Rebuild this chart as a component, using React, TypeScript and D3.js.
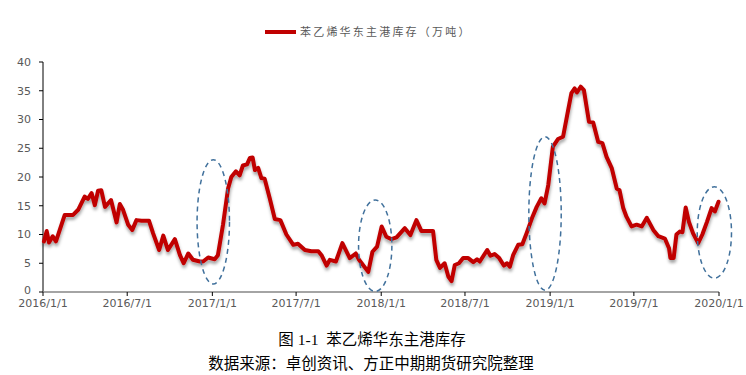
import React from "react";
import * as d3 from "d3";

const dates: string[] = [
  "2016-01-03","2016-01-09","2016-01-14","2016-01-22","2016-01-29","2016-02-17","2016-03-06","2016-03-17","2016-03-31","2016-04-07",
  "2016-04-15","2016-04-22","2016-04-29","2016-05-06","2016-05-14","2016-05-27","2016-06-08","2016-06-15","2016-06-22","2016-07-03",
  "2016-07-12","2016-07-21","2016-08-01","2016-08-17","2016-08-26","2016-09-08","2016-09-17","2016-09-27","2016-10-12","2016-10-23",
  "2016-10-31","2016-11-10","2016-11-20","2016-12-05","2016-12-12","2016-12-23","2017-01-06","2017-01-13","2017-01-24","2017-02-04",
  "2017-02-11","2017-02-21","2017-03-01","2017-03-08","2017-03-17","2017-03-23","2017-03-29","2017-04-03","2017-04-10","2017-04-17",
  "2017-04-24","2017-05-05","2017-05-16","2017-05-28","2017-06-10","2017-06-25","2017-07-05","2017-07-20","2017-08-03","2017-08-18",
  "2017-08-25","2017-09-05","2017-09-12","2017-09-25","2017-10-09","2017-10-25","2017-11-07","2017-11-14","2017-12-04","2017-12-13",
  "2017-12-23","2018-01-02","2018-01-12","2018-01-23","2018-02-03","2018-02-21","2018-03-05","2018-03-18","2018-03-29","2018-04-23",
  "2018-04-30","2018-05-08","2018-05-18","2018-05-26","2018-06-02","2018-06-09","2018-06-18","2018-06-27","2018-07-08","2018-07-19",
  "2018-07-27","2018-08-02","2018-08-18","2018-08-25","2018-09-03","2018-09-13","2018-09-23","2018-09-30","2018-10-06","2018-10-13",
  "2018-10-24","2018-11-02","2018-11-11","2018-11-24","2018-12-03","2018-12-13","2018-12-20","2018-12-28","2019-01-07","2019-01-18",
  "2019-01-29","2019-02-07","2019-02-16","2019-02-23","2019-02-28","2019-03-08","2019-03-15","2019-03-26","2019-04-04","2019-04-15",
  "2019-04-24","2019-05-03","2019-05-14","2019-05-25","2019-05-31","2019-06-08","2019-06-15","2019-06-26","2019-07-07","2019-07-18",
  "2019-07-29","2019-08-12","2019-08-23","2019-09-06","2019-09-15","2019-09-18","2019-09-25","2019-10-01","2019-10-08","2019-10-14",
  "2019-10-21","2019-10-28","2019-11-06","2019-11-17","2019-11-26","2019-12-06","2019-12-16","2019-12-23","2019-12-31",
];

const inventory: number[] = [
  8.8,10.6,8.6,9.7,8.8,13.4,13.4,14.3,16.6,16.2,
  17.2,15.1,17.6,17.7,14.8,16.0,12.1,15.3,14.3,11.7,
  10.8,12.5,12.4,12.4,10.2,7.3,9.8,7.3,9.2,6.4,
  5.0,6.7,5.6,5.3,5.3,6.0,5.7,6.4,11.7,18.0,
  20.0,21.0,20.3,22.0,22.2,23.3,23.4,21.2,21.6,19.8,
  19.7,16.3,12.7,12.5,10.0,8.2,8.4,7.3,7.1,7.1,
  6.4,4.6,5.6,5.3,8.5,5.9,6.7,5.6,3.5,7.0,
  7.9,11.4,9.6,9.2,9.5,11.1,9.9,12.5,10.6,10.6,
  5.6,4.2,5.0,2.7,1.9,4.7,5.0,5.9,5.9,5.2,
  5.7,5.3,7.3,6.3,6.6,5.9,4.6,5.0,4.4,6.4,
  8.2,8.3,10.2,13.1,14.8,16.3,15.4,18.6,25.3,26.6,
  27.0,30.8,34.6,35.4,34.7,35.7,35.1,29.6,29.5,26.1,
  25.9,23.5,21.6,18.0,17.7,14.6,13.1,11.4,11.7,11.4,
  12.9,10.8,9.7,9.3,7.6,5.9,5.9,10.0,10.5,10.4,
  14.7,12.2,10.2,8.5,10.0,12.2,14.6,14.0,15.7,
];

const xTickLabels: string[] = [
  "2016/1/1","2016/7/1","2017/1/1","2017/7/1","2018/1/1","2018/7/1","2019/1/1","2019/7/1","2020/1/1",
];
const yTicks: number[] = [0, 5, 10, 15, 20, 25, 30, 35, 40];

// dashed highlight ellipses: centre date, half width in days, value range
const markCenters: string[] = ["2017-01-03", "2017-12-19", "2018-12-21", "2019-12-22"];
const markHalfDays: number[] = [35, 36, 35, 37];
const markLow: number[] = [1.4, 0.1, 0.3, 2.4];
const markHigh: number[] = [23.0, 16.0, 27.0, 18.3];

const seriesName = "苯乙烯华东主港库存（万吨）";
const captionTitle = "图 1-1  苯乙烯华东主港库存";
const captionSource = "数据来源：卓创资讯、方正中期期货研究院整理";

const parseDash = d3.timeParse("%Y-%m-%d");
const parseSlash = (s: string) => {
  const [y, m, d] = s.split("/").map(Number);
  return new Date(y, m - 1, d);
};

export default function App() {
  const W = 746, H = 375;
  const x = d3.scaleTime().domain([new Date(2016, 0, 1), new Date(2020, 0, 1)]).range([43, 719]);
  const y = d3.scaleLinear().domain([0, 40]).range([292, 62]);

  const pts = dates.map((d, i) => ({ date: parseDash(d) as Date, v: inventory[i] }));
  const line = d3.line<{ date: Date; v: number }>().x((d) => x(d.date)).y((d) => y(d.v));

  const axisFont = "'DejaVu Sans', Verdana, sans-serif";
  const cjk = "'Noto Sans CJK SC', sans-serif";
  const red = "#C00000";

  return (
    <svg width={W} height={H} style={{ position: "absolute", left: 0, top: 0, background: "#fff" }}>
      <defs>
        <filter id="shadow" x="-5%" y="-10%" width="110%" height="130%">
          <feDropShadow dx="0.5" dy="3" stdDeviation="1.6" floodColor="#000" floodOpacity="0.35" />
        </filter>
      </defs>
      <rect x={0} y={0} width={W} height={H} fill="#fff" />

      {/* legend */}
      <line x1={265} x2={296} y1={32} y2={32} stroke={red} strokeWidth={4} />
      <text x={300} y={36} fontFamily={cjk} fontSize={11} fill="#595959" letterSpacing={2.2}>
        {seriesName}
      </text>

      {/* y axis */}
      <line x1={43} x2={43} y1={y(40)} y2={y(0)} stroke="#000" strokeWidth={1} />
      {yTicks.map((t) => (
        <g key={t}>
          <line x1={39} x2={43} y1={y(t)} y2={y(t)} stroke="#000" strokeWidth={1} />
          <text x={31} y={y(t)} dy={t === 0 ? "0.2em" : "0.35em"} textAnchor="end" fontFamily={axisFont} fontSize={11} fill="#595959">
            {t}
          </text>
        </g>
      ))}

      {/* x axis */}
      <line x1={43} x2={x(parseSlash(xTickLabels[xTickLabels.length - 1]))} y1={y(0)} y2={y(0)} stroke="#868686" strokeWidth={1.5} />
      {xTickLabels.map((l) => {
        const px = x(parseSlash(l));
        return (
          <g key={l}>
            <line x1={px} x2={px} y1={y(0)} y2={y(0) + 4} stroke="#000" strokeWidth={1} />
            <text x={px} y={y(0) + 15} textAnchor="middle" fontFamily={axisFont} fontSize={11} fill="#595959">
              {l}
            </text>
          </g>
        );
      })}

      {/* series */}
      <path d={line(pts) || ""} fill="none" stroke={red} strokeWidth={4} strokeLinejoin="round" strokeLinecap="round" filter="url(#shadow)" />

      {/* highlight ellipses */}
      {markCenters.map((c, i) => {
        const cd = parseDash(c) as Date;
        const cx = x(cd);
        const rx = x(d3.timeDay.offset(cd, markHalfDays[i])) - cx;
        const cy = (y(markLow[i]) + y(markHigh[i])) / 2;
        const ry = (y(markLow[i]) - y(markHigh[i])) / 2;
        return (
          <ellipse key={c} cx={cx} cy={cy} rx={rx} ry={ry} fill="none" stroke="#41719C" strokeWidth={1.5} strokeDasharray="5 4" />
        );
      })}

      {/* caption */}
      <text x={372} y={345} textAnchor="middle" fontFamily={`'Liberation Serif', ${cjk}`} fontSize={15.5} fill="#000" style={{ whiteSpace: "pre" }}>
        {captionTitle}
      </text>
      <text x={371} y={369} textAnchor="middle" fontFamily={`'Liberation Serif', ${cjk}`} fontSize={15.5} fill="#000">
        {captionSource}
      </text>
    </svg>
  );
}
